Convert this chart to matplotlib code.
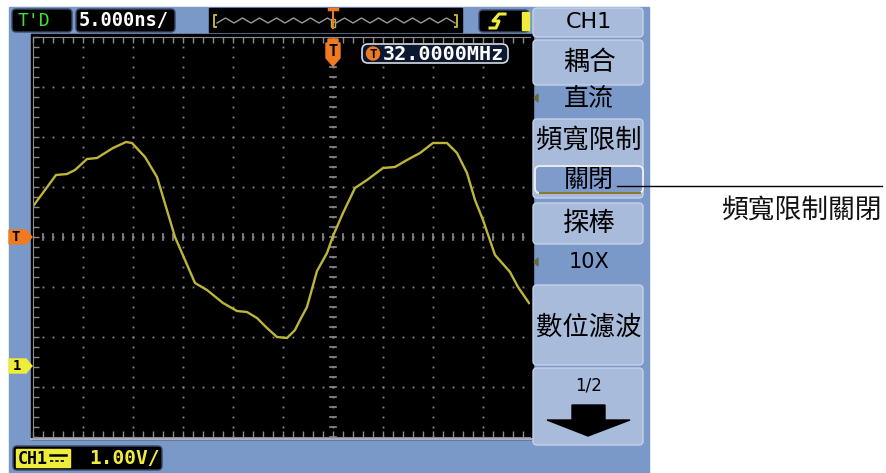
import numpy as np
import matplotlib
matplotlib.use('Agg')
import matplotlib.pyplot as plt
from matplotlib.patches import Rectangle, FancyBboxPatch, Polygon, Circle

plt.rcParams['font.family'] = ['Noto Sans CJK TC', 'DejaVu Sans']

tempo_ns = [-29.9, -27.7, -26.6, -25.8, -24.6, -23.6, -22.0, -20.7, -20.1, -18.8,
            -17.6, -17.0, -15.8, -14.8, -13.8, -12.6, -11.0, -9.6, -8.6, -7.6,
            -6.6, -5.6, -4.6, -3.8, -3.3, -2.6, -1.6, -0.6, 0.0, 1.0,
            2.2, 3.4, 5.0, 6.2, 7.4, 8.7, 10.0, 11.4, 12.4, 13.4,
            14.2, 15.0, 16.2, 17.7, 18.5, 19.6]
tensao_v = [3.24, 3.84, 3.86, 3.94, 4.16, 4.18, 4.38, 4.50, 4.48, 4.20,
            3.80, 3.40, 2.60, 2.14, 1.68, 1.54, 1.28, 1.12, 1.10, 0.98,
            0.78, 0.60, 0.58, 0.74, 0.94, 1.20, 1.92, 2.28, 2.62, 3.08,
            3.58, 3.74, 3.98, 4.00, 4.14, 4.28, 4.48, 4.48, 4.28, 3.88,
            3.34, 2.94, 2.24, 1.90, 1.60, 1.28]

# textos do menu
menu_titulos = ['CH1', '耦合', '頻寬限制', '探棒', '數位濾波', '1/2']
menu_valores = ['直流', '關閉', '10X']
anotacao = '頻寬限制關閉'
base_tempo = '5.000ns/'
escala_v = '1.00V/'
freq_trigger = '32.0000MHz'

AZUL = '#7A98C8'
BOTAO = '#A9BBDA'
TRACO = '#BDB53A'
LARANJA = '#F07A22'
AMARELO = '#F0EC3A'
CINZA = '#8C8C8C'
MONO = ['DejaVu Sans Mono']

W, H = 887, 473
fig = plt.figure(figsize=(W / 100, H / 100), dpi=100)
fig.patch.set_facecolor('white')

# fundo (coordenadas em pixels)
bg = fig.add_axes([0, 0, 1, 1], zorder=0)
bg.set_xlim(0, W)
bg.set_ylim(H, 0)
bg.axis('off')
bg.add_patch(Rectangle((9, 7), 640, 466, color=AZUL))
bg.add_patch(Rectangle((31, 34), 502, 405, color='black'))
bg.plot([31, 532], [439, 439], color='#C8D2E6', lw=1.2)

###
### Area do osciloscopio
###
ax = fig.add_axes([33 / W, (H - 437) / H, 497 / W, 400 / H], zorder=1)
ax.set_facecolor('black')
ax.set_xlim(-30, 19.7)
ax.set_ylim(-1.4, 6.6)

maj_x = np.arange(-25, 19.7, 5)
maj_y = np.arange(-0.4, 6.0, 1.0)
min_x = np.arange(-30, 19.7, 1)
min_y = np.arange(-1.4, 6.61, 0.2)
gx, gy = np.meshgrid(maj_x, min_y)
ax.plot(gx.ravel(), gy.ravel(), 's', ms=1.3, color=CINZA, mew=0)
gx, gy = np.meshgrid(min_x, maj_y)
ax.plot(gx.ravel(), gy.ravel(), 's', ms=1.3, color=CINZA, mew=0)
# eixos centrais com marcas
for xv in min_x:
    ax.plot([xv, xv], [2.55, 2.65], color=CINZA, lw=1.2)
for yv in min_y:
    ax.plot([-0.3, 0.3], [yv, yv], color=CINZA, lw=1.2)

ax.plot(tempo_ns, tensao_v, color=TRACO, lw=1.7, solid_joinstyle='miter')

ax.set_xticks(min_x)
ax.set_yticks(min_y)
ax.tick_params(direction='in', length=4, width=1, color=CINZA, top=True,
               right=False, labelbottom=False, labelleft=False)
for s in ax.spines.values():
    s.set_color(CINZA)
ax.spines['right'].set_visible(False)

###
### Sobreposicao: barras, menu e marcadores
###
ov = fig.add_axes([0, 0, 1, 1], zorder=2)
ov.set_xlim(0, W)
ov.set_ylim(H, 0)
ov.axis('off')
ov.patch.set_alpha(0)


def caixa(x, y, w, h, fc, ec='none', r=4, lw=1):
    ov.add_patch(FancyBboxPatch((x, y), w, h, boxstyle='round,pad=0,rounding_size=%d' % r,
                                fc=fc, ec=ec, lw=lw))


# barra superior
caixa(12, 9, 60, 23, 'black', '#3A4A6A')
ov.text(18, 21, "T'D", color='#3CE03C', family=MONO, fontsize=13, va='center')
caixa(76, 9, 99, 23, 'black', '#3A4A6A')
ov.text(79, 21, base_tempo, color='white', family=MONO, fontsize=13.5, va='center', weight='bold')

ov.add_patch(Rectangle((209, 8), 253, 24, color='black'))
zx = np.arange(217, 456, 8.5)
zy = np.where(np.arange(len(zx)) % 2 == 0, 23, 18)
ov.plot(zx, zy, color='#9A9A9A', lw=1)
ov.plot([216, 214, 214, 216], [15, 15, 27, 27], color=TRACO, lw=1.4)
ov.plot([455, 457, 457, 455], [15, 15, 27, 27], color=TRACO, lw=1.4)
ov.plot([333, 333], [9, 28], color=LARANJA, lw=1.5)
ov.plot([329, 337], [9, 9], color=LARANJA, lw=2.5)
ov.add_patch(Rectangle((331, 19), 4, 8, fc='none', ec=TRACO, lw=1))

caixa(479, 10, 50, 22, 'black', '#3A4A6A')
ov.plot([490, 496, 499, 493, 499, 505], [28, 28, 21, 21, 14, 14], color=AMARELO, lw=2.2)
ov.add_patch(Rectangle((522, 12), 7, 18, color=AMARELO))

# marcador T do trigger e frequencia
ov.add_patch(Polygon([(328, 39), (338, 39), (338, 43), (340, 43), (340, 58), (333, 66),
                      (326, 58), (326, 43), (328, 43)], closed=True, color=LARANJA))
ov.text(333, 51, 'T', color='black', family=MONO, fontsize=11, ha='center', va='center', weight='bold')
caixa(362, 44, 146, 19, '#0C1830', '#D8DCE0', r=6, lw=1.2)
ov.add_patch(Circle((373, 53.5), 6.5, color=LARANJA))
ov.text(373, 54, 'T', color='black', family=MONO, fontsize=9, ha='center', va='center', weight='bold')
ov.text(383, 54, freq_trigger, color='white', family=MONO, fontsize=14.5, va='center', weight='bold')

# marcadores da esquerda
ov.add_patch(Polygon([(9, 230), (26, 230), (32, 237), (26, 244), (9, 244)], closed=True, color=LARANJA))
ov.text(16, 237, 'T', color='black', family=MONO, fontsize=10, ha='center', va='center', weight='bold')
ov.add_patch(Polygon([(9, 359), (26, 359), (32, 366), (26, 373), (9, 373)], closed=True, color=AMARELO))
ov.text(17, 366, '1', color='black', family=MONO, fontsize=10, ha='center', va='center', weight='bold')

# barra inferior
caixa(13, 446, 149, 24, 'black', '#3A4A6A')
ov.add_patch(Rectangle((16, 449), 54, 18, color=AMARELO))
ov.text(18, 458.5, 'CH1', color='black', family=MONO, fontsize=12, va='center', weight='bold')
ov.plot([50, 66], [455, 455], color='black', lw=1.8)
ov.plot([50, 66], [461, 461], color='black', lw=1.2, ls=(0, (2, 1.2)))
ov.text(89, 458.5, escala_v, color=AMARELO, family=MONO, fontsize=14, va='center', weight='bold')

# menu lateral
botoes = [(8, 29), (40, 45), (119, 79), (203, 41), (285, 80), (368, 77)]
for (y0, h) in botoes:
    caixa(533, y0, 110, h, BOTAO, '#C5D2E8', r=4, lw=1)
cx = 589
ov.text(cx, 22.5, menu_titulos[0], ha='center', va='center', fontsize=16, family=['DejaVu Sans'])
ov.text(cx, 62, menu_titulos[1], ha='center', va='center', fontsize=19)
ov.text(cx, 98, menu_valores[0], ha='center', va='center', fontsize=18)
ov.text(cx, 140, menu_titulos[2], ha='center', va='center', fontsize=19)
caixa(535, 166, 108, 27, '#7F9BCB', '#F0F0F0', r=5, lw=1.3)
ov.plot([540, 640], [193, 193], color='#8A7A30', lw=1.5)
ov.text(cx, 180, menu_valores[1], ha='center', va='center', fontsize=18)
ov.text(cx, 223, menu_titulos[3], ha='center', va='center', fontsize=19)
ov.text(cx, 262, menu_valores[2], ha='center', va='center', fontsize=15, family=['DejaVu Sans'])
ov.text(cx, 327, menu_titulos[4], ha='center', va='center', fontsize=19)
ov.text(cx, 385, menu_titulos[5], ha='center', va='center', fontsize=12, family=['DejaVu Sans'])
for yy in (98, 262):
    ov.add_patch(Polygon([(538, yy - 4), (538, yy + 4), (534, yy)], closed=True, color='#6A6A40'))
ov.add_patch(Polygon([(572, 405), (605, 405), (605, 420), (630, 420), (588, 436), (547, 420), (572, 420)],
                     closed=True, color='black'))

# anotacao
ov.plot([617, 882], [186, 186], color='black', lw=1)
ov.text(882, 210, anotacao, ha='right', va='center', fontsize=19.3, color='#111111')

fig.savefig('out.png', dpi=100)
